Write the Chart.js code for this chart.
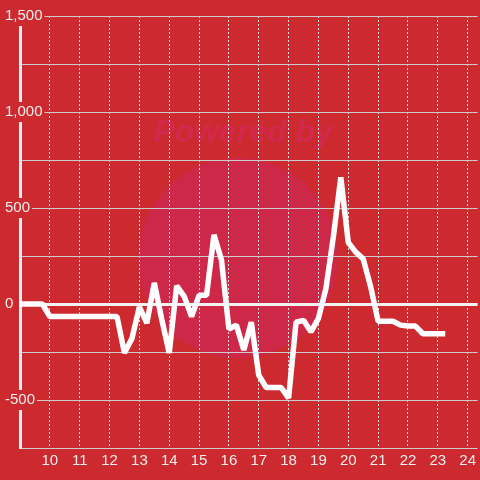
<!DOCTYPE html>
<html>
<head>
<meta charset="utf-8">
<script src="https://cdn.jsdelivr.net/npm/chart.js@4"></script>
<style>
  html, body { margin: 0; padding: 0; background: #cc2a2f; }
  canvas { display: block; }
</style>
</head>
<body>
<canvas id="Chart1" width="480" height="480"></canvas>
<script>
// =========== data
const hours = [
    9, 9.25, 9.5, 9.75, 10, 10.25, 10.5, 10.75, 11, 11.25, 11.5, 11.75,
    12, 12.25, 12.5, 12.75, 13, 13.25, 13.5, 13.75, 14, 14.25, 14.5, 14.75,
    15, 15.25, 15.5, 15.75, 16, 16.25, 16.5, 16.75, 17, 17.25, 17.5, 17.75,
    18, 18.25, 18.5, 18.75, 19, 19.25, 19.5, 19.75, 20, 20.25, 20.5, 20.75,
    21, 21.25, 21.5, 21.75, 22, 22.25, 22.5, 22.75, 23, 23.25,
];
const values = [
    0, 0, 0, 0, -65, -65, -65, -65, -65, -65, -65, -65,
    -65, -65, -255, -180, -15, -100, 110, -80, -255, 95, 40, -65,
    45, 45, 360, 230, -130, -110, -240, -95, -370, -435, -435, -435,
    -490, -95, -85, -145, -75, 80, 350, 660, 320, 270, 235, 90,
    -90, -90, -90, -110, -115, -115, -155, -155, -155, -155,
];
const xTickValues = [10, 11, 12, 13, 14, 15, 16, 17, 18, 19, 20, 21, 22, 23, 24];
const yLabelValues = [-500, 0, 500, 1000, 1500];

const bgColor = "#cc2a2f";
const fontFamily = "'Liberation Sans', Arial, sans-serif";

// watermark behind the grid
const watermark = {
    id: "watermark",
    beforeDraw(chart) {
        const ctx = chart.ctx;
        ctx.save();
        ctx.fillStyle = bgColor;
        ctx.fillRect(0, 0, chart.width, chart.height);
        ctx.fillStyle = "#cd2848";
        ctx.beginPath();
        ctx.arc(238, 258, 100, 0, Math.PI * 2);
        ctx.fill();
        ctx.fillStyle = "rgba(212, 40, 80, 0.85)";
        ctx.font = "italic bold 32px " + fontFamily;
        ctx.textAlign = "center";
        ctx.textBaseline = "middle";
        ctx.fillText("Powered by", 243, 133);
        ctx.restore();
    },
};

const ctx1 = document.getElementById("Chart1").getContext("2d");
const chart1 = new Chart(ctx1, {
    type: "line",
    data: {
        datasets: [
            {
                label: "",
                data: hours.map((h, i) => ({ x: h, y: values[i] })),
                borderColor: "#ffffff",
                backgroundColor: "transparent",
                borderWidth: 5.5,
                borderJoinStyle: "bevel",
                pointRadius: 0,
                tension: 0,
                fill: false,
            },
        ],
    },
    options: {
        responsive: false,
        animation: false,
        devicePixelRatio: 1,
        layout: {
            padding: { top: 16, left: 0, right: 0, bottom: 0 },
        },
        plugins: {
            legend: { display: false },
            tooltip: { enabled: false },
        },
        scales: {
            x: {
                type: "linear",
                min: 9,
                max: 24.333,
                afterBuildTicks: (scale) => {
                    scale.ticks = xTickValues.map((v) => ({ value: v }));
                },
                afterFit: (scale) => {
                    scale.height = 32;
                },
                grid: {
                    color: "#dddddd",
                    lineWidth: 1,
                    drawTicks: false,
                },
                border: {
                    display: false,
                    dash: [2, 2],
                },
                ticks: {
                    color: "#eeeeee",
                    padding: 4,
                    maxRotation: 0,
                    font: { family: fontFamily, size: 15 },
                    callback: (v) => String(v),
                },
            },
            y: {
                min: -750,
                max: 1500,
                afterFit: (scale) => {
                    scale.width = 20;
                },
                grid: {
                    color: (c) => (c.tick.value === 0 ? "#f2f2f2" : "#cccccc"),
                    lineWidth: (c) => (c.tick.value === 0 ? 3 : 1),
                    drawTicks: false,
                },
                border: {
                    display: true,
                    color: "#f2f2f2",
                    width: 3,
                },
                ticks: {
                    stepSize: 250,
                    mirror: true,
                    crossAlign: "near",
                    padding: -15,
                    color: "#eeeeee",
                    font: { family: fontFamily, size: 15 },
                    showLabelBackdrop: (c) => yLabelValues.includes(c.tick.value),
                    backdropColor: bgColor,
                    backdropPadding: { top: 1, bottom: 1, left: 2, right: 2 },
                    callback: (v) =>
                        yLabelValues.includes(v) ? v.toLocaleString("en-US") : "",
                },
            },
        },
    },
    plugins: [watermark],
});
</script>
</body>
</html>
